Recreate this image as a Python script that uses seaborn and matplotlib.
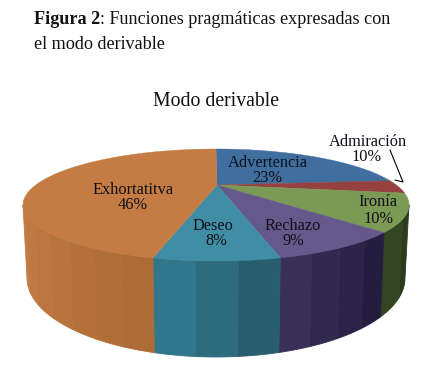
"""Modo derivable: 3D style pie, drawn from slice shares on a pixel sized axes."""
import numpy as np
import matplotlib.pyplot as plt
import seaborn as sns

categories = ["Advertencia", "Admiración", "Ironía", "Rechazo", "Deseo", "Exhortatitva"]
# printed labels and the share each slice really takes up in the picture differ
printed_pct = ["23%", "10%", "10%", "9%", "8%", "46%"]
slice_shares = [17.9, 3.7, 11.6, 11.4, 10.7, 44.7]
top_colors = ["#3F6E9F", "#96403F", "#7A9A55", "#65588A", "#408EA5", "#C57C44"]
wall_start = ["#2F5478", "#6E2F2E", "#334522", "#3A2F57", "#31778C", "#C27C44"]
wall_end = ["#2F5478", "#6E2F2E", "#2B3B1D", "#231D40", "#295E6F", "#AD6C36"]
name_xy = [(268, 163), (368, 142), (378, 202), (293, 226), (213, 226), (133, 190)]
pct_xy = [(267, 178), (367, 157), (379, 219), (293, 241), (216, 241), (133, 205)]

# ellipse geometry in pixels (y goes down)
CX, TOP_CY, TOP_A, TOP_B = 216, 205, 193, 56
BOT_CY, BOT_A, BOT_B = 278, 189, 79
APEX = (217, 185)


def rim(t, cy, a, b):
    return CX + a * np.cos(t), cy - b * np.sin(t)


sns.set_theme(style="white")
plt.rcParams["font.family"] = ["Liberation Serif", "DejaVu Serif"]

fig = plt.figure(figsize=(4.23, 3.75), dpi=100)
ax = fig.add_axes([0, 0, 1, 1])
ax.set_xlim(0, 423)
ax.set_ylim(375, 0)
ax.axis("off")

# slices run clockwise from 12 o'clock
edges = 90 - 360 * np.cumsum([0] + slice_shares) / sum(slice_shares)

# outer wall first, in shaded bands; only the front half (0..-180 deg) shows
for i in range(len(categories)):
    hi, lo = min(edges[i], 0), max(edges[i + 1], -180)
    if lo >= hi:
        continue
    n_bands = max(2, int((hi - lo) / 10))
    shades = sns.blend_palette([wall_end[i], wall_start[i]], n_bands)
    bands = np.linspace(hi, lo, n_bands + 1)
    for b in range(n_bands):
        t = np.radians(np.linspace(bands[b], bands[b + 1], 12))
        xt, yt = rim(t, TOP_CY, TOP_A, TOP_B)
        xb, yb = rim(t, BOT_CY, BOT_A, BOT_B)
        ax.fill(np.r_[xt, xb[::-1]], np.r_[yt, yb[::-1]],
                color=shades[b], lw=0.6)

# top face
for i, name in enumerate(categories):
    t = np.radians(np.linspace(edges[i], edges[i + 1], 80))
    x, y = rim(t, TOP_CY, TOP_A, TOP_B)
    ax.fill(np.r_[APEX[0], x], np.r_[APEX[1], y], color=top_colors[i], lw=0.3)

# data labels
for name, pct, nxy, pxy in zip(categories, printed_pct, name_xy, pct_xy):
    ax.text(*nxy, name, ha="center", va="center", fontsize=11.8, color="#101018")
    ax.text(*pxy, pct, ha="center", va="center", fontsize=11.8, color="#101018")

# leader line for the thin slice
ax.plot([390, 403, 395], [150, 182, 180], color="black", lw=0.8)

ax.text(216, 102, "Modo derivable", ha="center", va="center", fontsize=14.2, color="#111111")

head = ax.text(34, 28, "Figura 2", fontsize=13.1, fontweight="bold", va="bottom", color="#111111")
ax.annotate(": Funciones pragmáticas expresadas con", xy=(1, 0), xycoords=head,
            fontsize=13.1, va="bottom", color="#111111")
ax.text(34, 53, "el modo derivable", fontsize=13.1, va="bottom", color="#111111")

fig.savefig("out.png", dpi=100)
